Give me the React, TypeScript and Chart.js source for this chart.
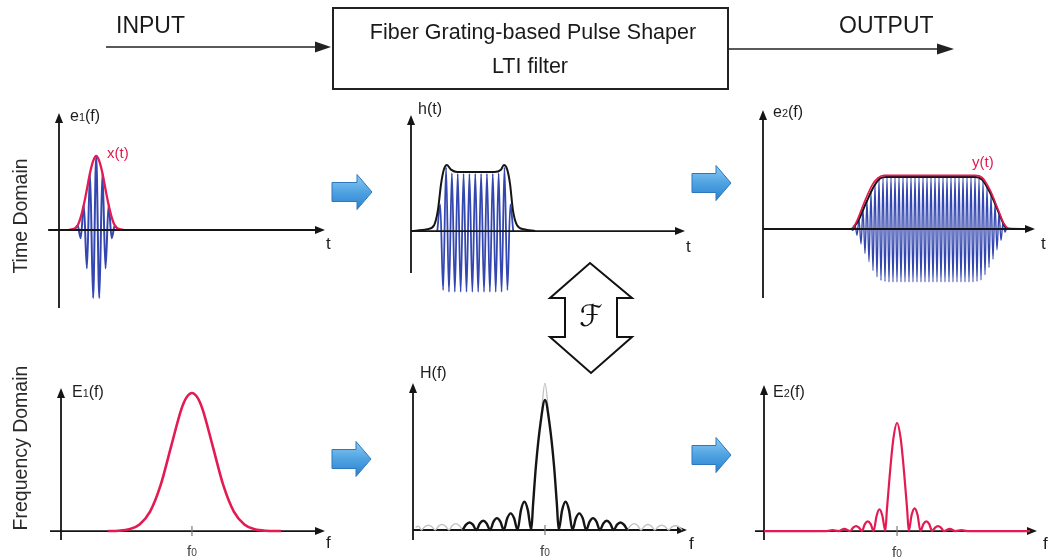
import React, { useEffect, useRef } from "react";
import { Chart, registerables } from "chart.js";

Chart.register(...registerables);

type Pt = [number, number | null];

// ---------- Time domain ----------
// Input pulse e1(t): carrier sampled at its half-period extremes
const E1_CARRIER: Pt[] = [
  [5, 0], [6, 0.06], [7, -0.11], [8, 0.34], [9, -0.52], [10, 0.77], [11, -0.92],
  [12, 1.0], [13, -0.92], [14, 0.77], [15, -0.52], [16, 0.34], [17, -0.11], [18, 0.06], [19, 0],
];
// Envelope x(t) of the input pulse
const E1_ENVELOPE: Pt[] = [
  [3, 0], [5, 0.02], [6, 0.06], [7, 0.17], [8, 0.34], [9, 0.55], [10, 0.77], [11, 0.93],
  [12, 1.0], [13, 0.93], [14, 0.77], [15, 0.55], [16, 0.34], [17, 0.17], [18, 0.06], [19, 0.02], [21, 0],
];

// Impulse response h(t) of the grating
const H_CARRIER: Pt[] = [
  [9, 0], [10, 0.45], [11, -1.0], [12, 1.08], [13, -1.03], [14, 0.98], [15, -1.03], [16, 0.97],
  [17, -1.03], [18, 0.97], [19, -1.03], [20, 0.97], [21, -1.03], [22, 0.97], [23, -1.03], [24, 0.97],
  [25, -1.03], [26, 0.97], [27, -1.03], [28, 0.97], [29, -1.03], [30, 0.98], [31, -1.03], [32, 1.08],
  [33, -1.0], [34, 0.45], [35, 0],
];
const H_ENVELOPE: Pt[] = [
  [0, 0], [5.5, 0.03], [7.9, 0.1], [9.2, 0.35], [10.3, 0.8], [11.3, 1.05], [12.3, 1.12], [13.7, 1.04],
  [15.8, 1.0], [28.5, 1.0], [30.8, 1.04], [31.8, 1.12], [32.9, 1.05], [33.9, 0.8], [34.9, 0.35],
  [36.3, 0.1], [38.7, 0.03], [42.5, 0],
];

// Output pulse e2(t) and its envelope y(t)
const E2_CARRIER: Pt[] = [
  [44, 0], [45, -0.03], [46, 0.08], [47, -0.12], [48, 0.19], [49, -0.29], [50, 0.37], [51, -0.47],
  [52, 0.54], [53, -0.63], [54, 0.7], [55, -0.8], [56, 0.85], [57, -0.92], [58, 0.95], [59, -0.99],
  [60, 0.98], [61, -1.01], [62, 1], [63, -1.02], [64, 1], [65, -1.02], [66, 1], [67, -1.02], [68, 1],
  [69, -1.02], [70, 1], [71, -1.02], [72, 1], [73, -1.02], [74, 1], [75, -1.02], [76, 1], [77, -1.02],
  [78, 1], [79, -1.02], [80, 1], [81, -1.02], [82, 1], [83, -1.02], [84, 1], [85, -1.02], [86, 1],
  [87, -1.02], [88, 1], [89, -1.02], [90, 1], [91, -1.02], [92, 1], [93, -1.02], [94, 1], [95, -1.02],
  [96, 1], [97, -1.02], [98, 1], [99, -1.02], [100, 1], [101, -1.02], [102, 1], [103, -1.02], [104, 1],
  [105, -1.02], [106, 1], [107, -1.01], [108, 0.97], [109, -0.98], [110, 0.92], [111, -0.88],
  [112, 0.8], [113, -0.74], [114, 0.66], [115, -0.58], [116, 0.48], [117, -0.4], [118, 0.31],
  [119, -0.22], [120, 0.13], [121, -0.06], [122, 0.02], [123, 0],
];
const E2_ENVELOPE: Pt[] = [
  [44.5, 0], [47.5, 0.15], [51.5, 0.5], [55.5, 0.82], [58.5, 0.97], [61.5, 1.0], [106, 1.0],
  [109.5, 0.95], [113.5, 0.7], [117.5, 0.35], [120.5, 0.08], [122.5, 0],
];
const Y_OUTPUT: Pt[] = [
  [40, 0], [44, 0], [46.5, 0.12], [50.5, 0.5], [54.5, 0.84], [57.5, 0.98], [60.5, 1.03], [106, 1.03],
  [109.5, 0.99], [113.5, 0.75], [117.5, 0.38], [120.5, 0.1], [123, 0.01], [133, 0],
];

// ---------- Frequency domain (f0 = 50) ----------
const F0 = 50;

const SPEC_E1: Pt[] = [
  [18, 0], [22, 0.002], [26, 0.012], [30, 0.047], [34, 0.14], [38, 0.33], [42, 0.61], [46, 0.885],
  [48, 0.97], [50, 1], [52, 0.97], [54, 0.885], [58, 0.61], [62, 0.33], [66, 0.14], [70, 0.047],
  [74, 0.012], [78, 0.002], [84, 0],
];

const SPEC_H: Pt[] = [
  [18.8, 0], [20.1, 0.041], [21.4, 0.058], [22.7, 0.041], [24.0, 0], [25.3, 0.05], [26.6, 0.071],
  [27.9, 0.05], [29.2, 0], [30.5, 0.064], [31.8, 0.091], [33.1, 0.064], [34.4, 0], [35.7, 0.09],
  [37.0, 0.128], [38.3, 0.09], [39.6, 0], [40.9, 0.153], [42.2, 0.217], [43.5, 0.153], [44.8, 0],
  [45.5, 0.2], [46.6, 0.5], [48.3, 0.82], [50, 1], [51.7, 0.82], [53.4, 0.5], [54.5, 0.2], [55.2, 0],
  [56.5, 0.153], [57.8, 0.217], [59.1, 0.153], [60.4, 0], [61.7, 0.09], [63.0, 0.128], [64.3, 0.09],
  [65.6, 0], [66.9, 0.064], [68.2, 0.091], [69.5, 0.064], [70.8, 0], [72.1, 0.05], [73.4, 0.071],
  [74.7, 0.05], [76.0, 0], [77.3, 0.041], [78.6, 0.058], [79.9, 0.041], [81.2, 0],
];
// Faint reference trace: outer side lobes and the peak tip
const SPEC_H_GHOST: Pt[] = [
  [1.0, 0.02], [2.1, 0.03], [3.2, 0], [4.5, 0.026], [5.8, 0.037], [7.1, 0.026], [8.4, 0], [9.7, 0.03],
  [11.0, 0.042], [12.3, 0.03], [13.6, 0], [14.9, 0.035], [16.2, 0.049], [17.5, 0.035], [18.8, 0],
  [30, null],
  [48.4, 0.85], [50, 1.13], [51.6, 0.85],
  [70, null],
  [81.2, 0], [82.5, 0.035], [83.8, 0.049], [85.1, 0.035], [86.4, 0], [87.7, 0.03], [89.0, 0.042],
  [90.3, 0.03], [91.6, 0], [92.9, 0.026], [94.2, 0.037], [95.5, 0.026], [96.8, 0], [98.1, 0.024],
  [99.4, 0.033], [100.7, 0.024], [102, 0],
];

const SPEC_E2: Pt[] = [
  [0, 0], [23.6, 0], [25.8, 0.008], [28.0, 0], [30.2, 0.02], [32.4, 0], [33.5, 0.032], [34.6, 0.045],
  [35.7, 0.032], [36.8, 0], [37.9, 0.064], [39.0, 0.09], [40.1, 0.064], [41.2, 0], [42.3, 0.14],
  [43.4, 0.2], [44.5, 0.14], [45.6, 0], [46.2, 0.2], [47.2, 0.5], [48.6, 0.85], [50, 1], [51.4, 0.85],
  [52.8, 0.5], [53.8, 0.2], [54.4, 0], [55.5, 0.15], [56.6, 0.21], [57.7, 0.15], [58.8, 0],
  [59.9, 0.064], [61.0, 0.09], [62.1, 0.064], [63.2, 0], [64.3, 0.032], [65.4, 0.045], [66.5, 0.032],
  [67.6, 0], [69.8, 0.02], [72.0, 0], [74.2, 0.008], [76.4, 0], [100, 0],
];

// ---------- Styling ----------
const BLUE = "#3447b0";
const RED = "#e31b52";
const INK = "#151515";
const GHOST = "#c2c2c2";
const FONT = "'Liberation Sans', Arial, Helvetica, sans-serif";

type Series = { data: Pt[]; color: string; width: number; order: number };
type PanelDef = {
  area: { l: number; t: number; r: number; b: number };
  canvas: { x: number; y: number; w: number; h: number };
  x: [number, number];
  y: [number, number];
  xAxis: [number, number];
  yAxis: [number, number];
  tick?: number;
  axisOnTop: boolean;
  series: Series[];
};

const PANELS: PanelDef[] = [
  {
    area: { l: 59, t: 113, r: 325, b: 308 },
    canvas: { x: 40, y: 100, w: 300, h: 215 },
    x: [0, 85.8], y: [-1.054, 1.581], xAxis: [-3.5, 85.8], yAxis: [-1.054, 1.581],
    axisOnTop: true,
    series: [
      { data: E1_ENVELOPE, color: RED, width: 2.3, order: 0 },
      { data: E1_CARRIER, color: BLUE, width: 2, order: 1 },
    ],
  },
  {
    area: { l: 411, t: 115, r: 685, b: 296 },
    canvas: { x: 395, y: 100, w: 305, h: 205 },
    x: [0, 93.8], y: [-1.1, 1.966], xAxis: [0, 93.8], yAxis: [-0.71, 1.966],
    axisOnTop: true,
    series: [
      { data: H_ENVELOPE, color: INK, width: 2, order: 0 },
      { data: H_CARRIER, color: BLUE, width: 1.8, order: 1 },
    ],
  },
  {
    area: { l: 763, t: 110, r: 1035, b: 298 },
    canvas: { x: 745, y: 95, w: 305, h: 215 },
    x: [0, 136], y: [-1.327, 2.288], xAxis: [0, 136], yAxis: [-1.327, 2.288],
    axisOnTop: true,
    series: [
      { data: Y_OUTPUT, color: RED, width: 1.7, order: 0 },
      { data: E2_ENVELOPE, color: INK, width: 2, order: 1 },
      { data: E2_CARRIER, color: BLUE, width: 1.35, order: 2 },
    ],
  },
  {
    area: { l: 61, t: 388, r: 325, b: 540 },
    canvas: { x: 40, y: 375, w: 300, h: 175 },
    x: [0, 100.8], y: [-0.065, 1.036], xAxis: [-4.2, 100.8], yAxis: [-0.065, 1.036],
    tick: F0, axisOnTop: false,
    series: [{ data: SPEC_E1, color: RED, width: 2.6, order: 0 }],
  },
  {
    area: { l: 413, t: 383, r: 687, b: 540 },
    canvas: { x: 395, y: 370, w: 305, h: 180 },
    x: [0, 103.8], y: [-0.077, 1.131], xAxis: [0, 103.8], yAxis: [-0.077, 1.131],
    tick: F0, axisOnTop: false,
    series: [
      { data: SPEC_H, color: INK, width: 2.4, order: 0 },
      { data: SPEC_H_GHOST, color: GHOST, width: 1.4, order: 1 },
    ],
  },
  {
    area: { l: 764, t: 385, r: 1037, b: 540 },
    canvas: { x: 745, y: 372, w: 305, h: 178 },
    x: [0, 102.6], y: [-0.083, 1.352], xAxis: [-3.4, 102.6], yAxis: [-0.083, 1.352],
    tick: F0, axisOnTop: false,
    series: [{ data: SPEC_E2, color: RED, width: 2.2, order: 0 }],
  },
];

// Axes with arrow heads, drawn through the chart's own scales
function drawAxes(chart: any, o: any) {
  const { ctx } = chart;
  const xs = chart.scales.x;
  const ys = chart.scales.y;
  const ox = xs.getPixelForValue(0);
  const oy = ys.getPixelForValue(0);
  const x1 = xs.getPixelForValue(o.xAxis[0]);
  const x2 = xs.getPixelForValue(o.xAxis[1]);
  const y1 = ys.getPixelForValue(o.yAxis[0]);
  const y2 = ys.getPixelForValue(o.yAxis[1]);
  const head = 10;
  const half = 4;
  ctx.save();
  ctx.strokeStyle = INK;
  ctx.fillStyle = INK;
  ctx.lineWidth = 1.8;
  ctx.beginPath();
  ctx.moveTo(x1, oy);
  ctx.lineTo(x2 - head + 1, oy);
  ctx.moveTo(ox, y1);
  ctx.lineTo(ox, y2 + head - 1);
  ctx.stroke();
  ctx.beginPath();
  ctx.moveTo(x2, oy);
  ctx.lineTo(x2 - head, oy - half);
  ctx.lineTo(x2 - head, oy + half);
  ctx.closePath();
  ctx.fill();
  ctx.beginPath();
  ctx.moveTo(ox, y2);
  ctx.lineTo(ox - half, y2 + head);
  ctx.lineTo(ox + half, y2 + head);
  ctx.closePath();
  ctx.fill();
  if (o.tick != null) {
    const tx = xs.getPixelForValue(o.tick);
    ctx.strokeStyle = "#7a7a7a";
    ctx.lineWidth = 1.2;
    ctx.beginPath();
    ctx.moveTo(tx, oy - 5);
    ctx.lineTo(tx, oy + 5);
    ctx.stroke();
  }
  ctx.restore();
}

const arrowAxes = {
  id: "arrowAxes",
  beforeDatasetsDraw(chart: any, _args: any, o: any) {
    if (!o.onTop) drawAxes(chart, o);
  },
  afterDatasetsDraw(chart: any, _args: any, o: any) {
    if (o.onTop) drawAxes(chart, o);
  },
};

function Panel({ def }: { def: PanelDef }) {
  const ref = useRef<HTMLCanvasElement>(null);
  useEffect(() => {
    const c = ref.current!;
    const { area, canvas } = def;
    const chart = new Chart(c, {
      type: "line",
      data: {
        datasets: def.series.map((s) => ({
          data: s.data.map(([x, y]) => ({ x, y })),
          borderColor: s.color,
          borderWidth: s.width,
          pointRadius: 0,
          fill: false,
          cubicInterpolationMode: "monotone",
          order: s.order,
        })),
      } as any,
      options: {
        responsive: false,
        animation: false,
        events: [],
        layout: {
          padding: {
            left: area.l - canvas.x,
            top: area.t - canvas.y,
            right: canvas.x + canvas.w - area.r,
            bottom: canvas.y + canvas.h - area.b,
          },
        },
        scales: {
          x: { type: "linear", min: def.x[0], max: def.x[1], display: false },
          y: { type: "linear", min: def.y[0], max: def.y[1], display: false },
        },
        plugins: {
          legend: { display: false },
          tooltip: { enabled: false },
          arrowAxes: { xAxis: def.xAxis, yAxis: def.yAxis, tick: def.tick, onTop: def.axisOnTop },
        } as any,
      },
      plugins: [arrowAxes],
    });
    return () => chart.destroy();
  }, [def]);
  const { canvas } = def;
  return (
    <canvas
      ref={ref}
      width={canvas.w}
      height={canvas.h}
      style={{ position: "absolute", left: canvas.x, top: canvas.y, width: canvas.w, height: canvas.h }}
    />
  );
}

function BlueArrow({ x0, tip, yc }: { x0: number; tip: number; yc: number }) {
  const bh = 9.5;
  const hh = 17.5;
  const hl = 15;
  const pts = [
    [x0, yc - bh], [tip - hl, yc - bh], [tip - hl, yc - hh], [tip, yc],
    [tip - hl, yc + hh], [tip - hl, yc + bh], [x0, yc + bh],
  ].map((p) => p.join(",")).join(" ");
  return <polygon points={pts} fill="url(#blueGrad)" stroke="#2f78bd" strokeWidth={1} />;
}

function Label({ x, y, main, sub, tail, size = 16, color = "#1d1d1d", anchor = "start" }: any) {
  return (
    <text x={x} y={y} fontSize={size} fill={color} fontFamily={FONT} textAnchor={anchor}>
      {main}
      {sub != null && <tspan fontSize={size * 0.68}>{sub}</tspan>}
      {tail}
    </text>
  );
}

function Overlay() {
  return (
    <svg width={1055} height={559} style={{ position: "absolute", left: 0, top: 0 }}>
      <defs>
        <linearGradient id="blueGrad" x1="0" y1="0" x2="0" y2="1">
          <stop offset="0" stopColor="#8ccaf2" />
          <stop offset="0.5" stopColor="#4fa3e2" />
          <stop offset="1" stopColor="#2c80cf" />
        </linearGradient>
      </defs>

      {/* block diagram */}
      <text x={116} y={33} fontSize={23} fontFamily={FONT} fill="#1a1a1a">INPUT</text>
      <line x1={106} y1={47} x2={318} y2={47} stroke="#222" strokeWidth={1.6} />
      <polygon points="331,47 315,41.5 315,52.5" fill="#222" />
      <rect x={333} y={8} width={395} height={81} fill="none" stroke="#222" strokeWidth={2} />
      <text x={533} y={39} fontSize={21.5} fontFamily={FONT} fill="#1a1a1a" textAnchor="middle">
        Fiber Grating-based Pulse Shaper
      </text>
      <text x={530} y={73} fontSize={21.5} fontFamily={FONT} fill="#1a1a1a" textAnchor="middle">
        LTI filter
      </text>
      <text x={839} y={33} fontSize={23} fontFamily={FONT} fill="#1a1a1a">OUTPUT</text>
      <line x1={729} y1={49} x2={940} y2={49} stroke="#222" strokeWidth={1.6} />
      <polygon points="954,49 937,43.5 937,54.5" fill="#222" />

      {/* row titles */}
      <text x={20} y={216} fontSize={19.5} fontFamily={FONT} fill="#2a2a2a" textAnchor="middle"
        dominantBaseline="central" transform="rotate(-90 20 216)">Time Domain</text>
      <text x={20} y={448} fontSize={19.5} fontFamily={FONT} fill="#2a2a2a" textAnchor="middle"
        dominantBaseline="central" transform="rotate(-90 20 448)">Frequency Domain</text>

      {/* flow arrows */}
      <BlueArrow x0={332} tip={372} yc={192} />
      <BlueArrow x0={692} tip={731} yc={183} />
      <BlueArrow x0={332} tip={371} yc={459} />
      <BlueArrow x0={692} tip={731} yc={455} />

      {/* Fourier transform pair arrow */}
      <polygon
        points="590,263 632,298 617,298 617,337 632,337 591,373 550,337 565,337 565,298 550,298"
        fill="#fff" stroke="#111" strokeWidth={2} strokeLinejoin="miter" />
      <text x={591} y={326} fontSize={30} fontFamily="'DejaVu Serif', 'DejaVu Sans', serif"
        fill="#111" textAnchor="middle">ℱ</text>

      {/* time-domain labels */}
      <Label x={70} y={121} main="e" sub="1" tail="(f)" />
      <Label x={107} y={158} main="x(t)" size={15} color={RED} />
      <Label x={326} y={249} main="t" size={17} />
      <Label x={418} y={114} main="h(t)" />
      <Label x={686} y={252} main="t" size={17} />
      <Label x={773} y={117} main="e" sub="2" tail="(f)" />
      <Label x={972} y={167} main="y(t)" size={15} color={RED} />
      <Label x={1041} y={249} main="t" size={17} />

      {/* frequency-domain labels */}
      <Label x={72} y={397} main="E" sub="1" tail="(f)" />
      <Label x={326} y={548} main="f" size={17} />
      <Label x={192} y={556} main="f" sub="0" size={15} color="#444" anchor="middle" />
      <Label x={420} y={378} main="H(f)" />
      <Label x={689} y={549} main="f" size={17} />
      <Label x={545} y={556} main="f" sub="0" size={15} color="#444" anchor="middle" />
      <Label x={773} y={397} main="E" sub="2" tail="(f)" />
      <Label x={1043} y={549} main="f" size={17} />
      <Label x={897} y={557} main="f" sub="0" size={15} color="#444" anchor="middle" />
    </svg>
  );
}

export default function App() {
  return (
    <div style={{ position: "fixed", left: 0, top: 0, width: 1055, height: 559, background: "#fff", overflow: "hidden" }}>
      {PANELS.map((p, i) => (
        <Panel key={i} def={p} />
      ))}
      <Overlay />
    </div>
  );
}
